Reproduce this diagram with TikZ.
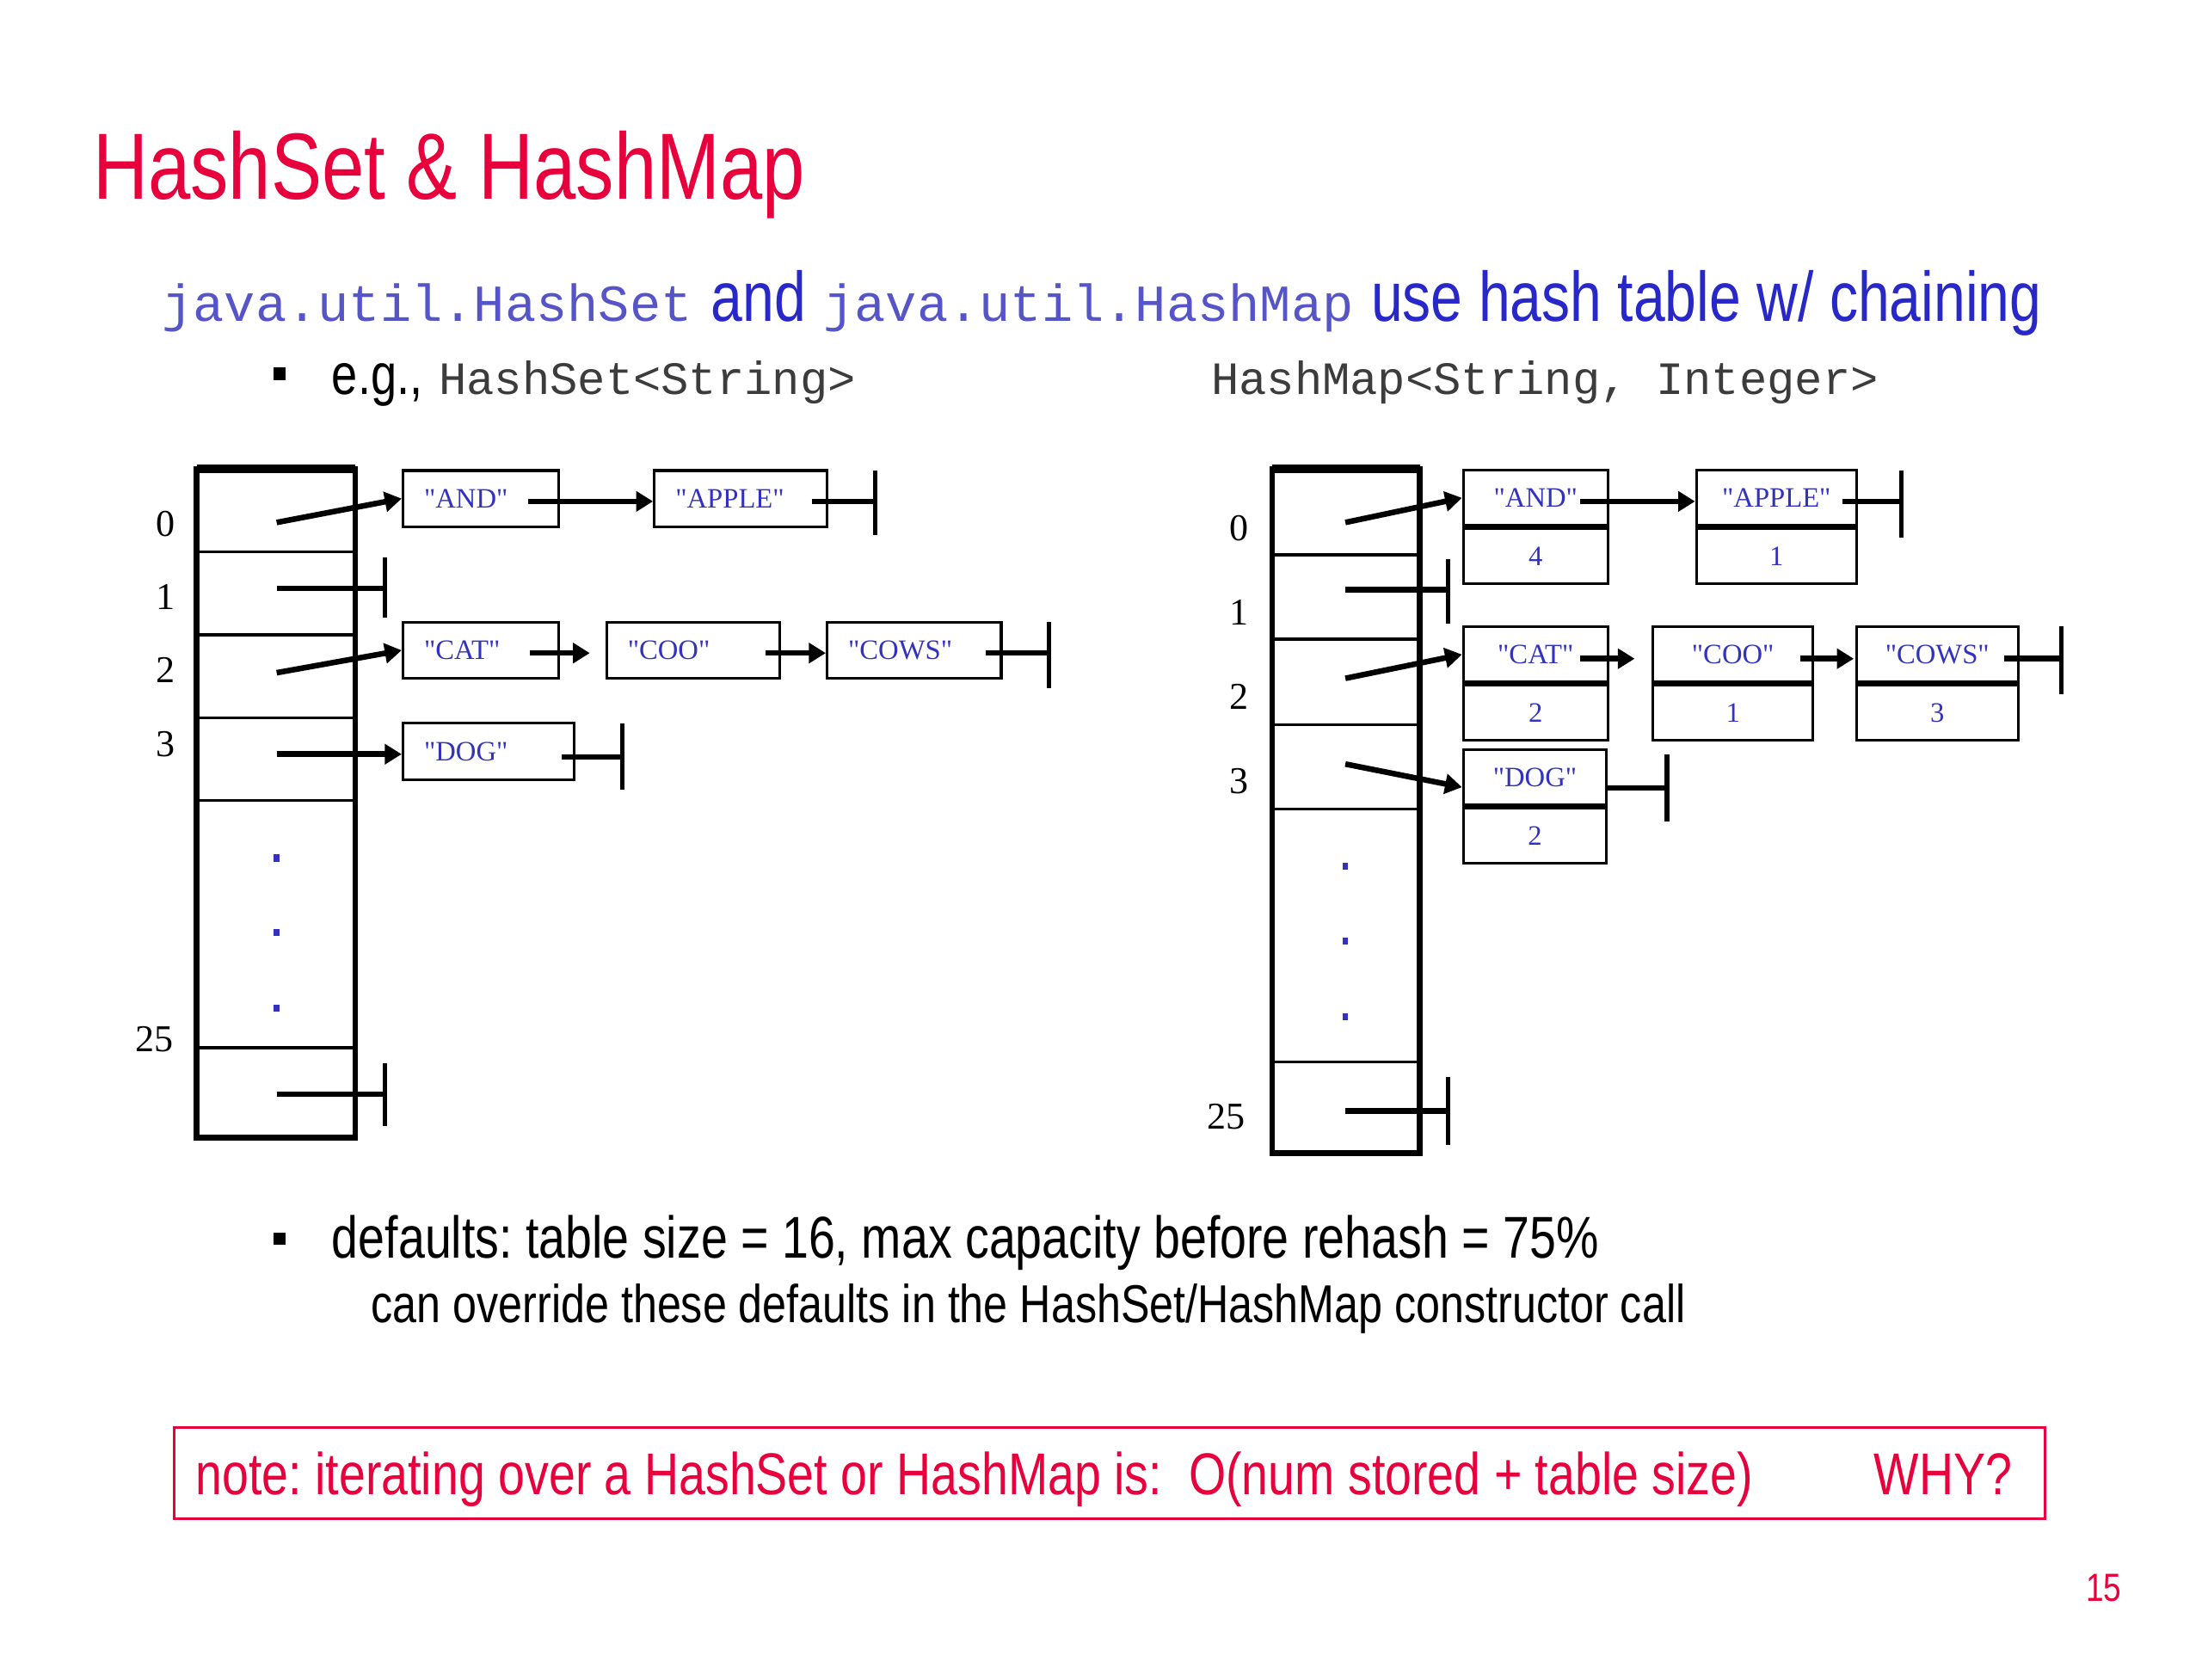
\documentclass[tikz,border=0pt]{standalone}
\usepackage{fontspec}
\setmainfont{Liberation Sans}
\newfontfamily\narrowsans{Liberation Sans}[FakeStretch=0.81]
\newfontfamily\serifface{Liberation Serif}
\newfontfamily\monoface{Liberation Mono}
\usetikzlibrary{arrows.meta,calc}
\definecolor{slidered}{RGB}{232,0,60}
\definecolor{slideblue}{RGB}{40,40,200}
\definecolor{codeblue}{RGB}{85,85,200}
\definecolor{codegray}{RGB}{60,60,60}
\definecolor{boxblue}{RGB}{50,50,190}
\begin{document}
\frenchspacing
\begin{tikzpicture}[x=0.5pt,y=-0.5pt,
  txt/.style={inner sep=0pt, anchor=base west},
  bulletsq/.style={fill=black, minimum size=4.5pt, inner sep=0pt},
  rowlabel/.style={inner sep=0pt, font=\serifface\fontsize{13.5}{16}\selectfont},
  tableframe/.style={line width=2pt},
  divider/.style={line width=1pt},
  setbox/.style={draw, line width=1pt, minimum height=20pt, inner xsep=7.5pt, inner ysep=0pt,
    text=boxblue, align=left, font=\serifface\fontsize{10}{12}\selectfont},
  keybox/.style={draw, line width=1pt, minimum height=19.75pt, inner sep=0pt,
    text=boxblue, font=\serifface\fontsize{10}{12}\selectfont},
  dotsq/.style={fill=boxblue, minimum width=2pt, minimum height=2.5pt, inner sep=0pt},
  ptr/.style={line width=2pt, -{Triangle[length=6pt,width=7pt]}},
  nullline/.style={line width=2pt},
  nullbar/.style={line width=1.6pt}
]
\useasboundingbox (0,0) rectangle (1568,1195.6);

% title and headings
\node[txt, text=slidered, font=\narrowsans\fontsize{33.5}{40}\selectfont] (title) at (66,142) {HashSet \& HashMap};
\node[txt, text=codeblue, font=\monoface\fontsize{18.5}{22}\selectfont] (j1) at (115,229) {java.util.HashSet};
\node[txt, text=slideblue, font=\narrowsans\fontsize{25}{30}\selectfont] (and) at (506,229) {and};
\node[txt, text=codeblue, font=\monoface\fontsize{18.5}{22}\selectfont] (j2) at (586,229) {java.util.HashMap};
\node[txt, text=slideblue, font=\narrowsans\fontsize{25}{30}\selectfont] (use) at (976,229) {use hash table w/ chaining};
\node[bulletsq] (b1) at (199,266) {};
\node[txt, font=\narrowsans\fontsize{20.5}{24}\selectfont] (eg) at (236,281) {e.g.,};
\node[txt, text=codegray, font=\monoface\fontsize{16.5}{20}\selectfont] (hs) at (312,281) {HashSet<String>};
\node[txt, text=codegray, font=\monoface\fontsize{16.5}{20}\selectfont] (hm) at (862,281) {HashMap<String, Integer>};

% ---------- left table ----------
\draw[tableframe] (140,334) rectangle (253,810);
\draw[line width=3pt] (140,334) -- (253,334);
\foreach \yy in {393,452,511,570,746} \draw[divider] (140,\yy) -- (253,\yy);
\node[rowlabel] (ll0) at (118,373) {0};
\node[rowlabel] (ll1) at (118,425) {1};
\node[rowlabel] (ll2) at (118,477) {2};
\node[rowlabel] (ll3) at (118,530) {3};
\node[rowlabel] (ll25) at (110,740) {25};
\node[dotsq] (ld1) at (197,611) {};
\node[dotsq] (ld2) at (197,664) {};
\node[dotsq] (ld3) at (197,718) {};

\node[setbox, text width=40.5pt] (sAND) at (342.5,355) {"AND"};
\node[setbox, text width=46.5pt] (sAPPLE) at (527.5,355) {"APPLE"};
\node[setbox, text width=40.5pt] (sCAT) at (342.5,463) {"CAT"};
\node[setbox, text width=46.5pt] (sCOO) at (493.5,463) {"COO"};
\node[setbox, text width=47pt] (sCOWS) at (651,463) {"COWS"};
\node[setbox, text width=46pt] (sDOG) at (348,535) {"DOG"};

\coordinate (L0) at (197,372);
\coordinate (L1) at (197,419);
\coordinate (L1n) at (274,419);
\coordinate (L2) at (197,479);
\coordinate (L3) at (197,537);
\coordinate (L25) at (197,779);
\coordinate (L25n) at (274,779);
\draw[ptr] (L0) -- (sAND.west);
\draw[nullline] (L1) -- (L1n);
\draw[nullbar] ($(L1n)+(0,-22)$) -- ($(L1n)+(0,21)$);
\draw[ptr] (L2) -- (sCAT.west);
\draw[ptr] (L3) -- (sDOG.west |- L3);
\draw[nullline] (L25) -- (L25n);
\draw[nullbar] ($(L25n)+(0,-22)$) -- ($(L25n)+(0,23)$);

\coordinate (sANDp) at (376,357);
\draw[ptr] (sANDp) -- (sAPPLE.west |- sANDp);
\coordinate (sAPPLEp) at (578,357);
\coordinate (sAPPLEn) at (623,357);
\draw[nullline] (sAPPLEp) -- (sAPPLEn);
\draw[nullbar] ($(sAPPLEn)+(0,-22)$) -- ($(sAPPLEn)+(0,24)$);
\coordinate (sCATp) at (377,465);
\coordinate (sCOOin) at (420,465);
\draw[ptr] (sCATp) -- (sCOOin);
\coordinate (sCOOp) at (545,465);
\draw[ptr] (sCOOp) -- (sCOWS.west |- sCOOp);
\coordinate (sCOWSp) at (702,465);
\coordinate (sCOWSn) at (747,465);
\draw[nullline] (sCOWSp) -- (sCOWSn);
\draw[nullbar] ($(sCOWSn)+(0,-22)$) -- ($(sCOWSn)+(0,25)$);
\coordinate (sDOGp) at (400,539);
\coordinate (sDOGn) at (443,539);
\draw[nullline] (sDOGp) -- (sDOGn);
\draw[nullbar] ($(sDOGn)+(0,-24)$) -- ($(sDOGn)+(0,23)$);

% ---------- right table ----------
\draw[tableframe] (906,334) rectangle (1011,821);
\draw[line width=3pt] (906,334) -- (1011,334);
\foreach \yy in {395,455,516,576,756} \draw[divider] (906,\yy) -- (1011,\yy);
\node[rowlabel] (rl0) at (882,376) {0};
\node[rowlabel] (rl1) at (882,436) {1};
\node[rowlabel] (rl2) at (882,496) {2};
\node[rowlabel] (rl3) at (882,556) {3};
\node[rowlabel] (rl25) at (873,795) {25};
\node[dotsq] (rd1) at (958,617) {};
\node[dotsq] (rd2) at (958,670) {};
\node[dotsq] (rd3) at (958,724) {};

\node[keybox, minimum width=51.5pt] (mAND) at (1093.5,354.5) {"AND"};
\node[keybox, minimum width=51.5pt, anchor=north] (mANDv) at (mAND.south) {4};
\node[keybox, minimum width=57pt] (mAPPLE) at (1265,354.5) {"APPLE"};
\node[keybox, minimum width=57pt, anchor=north] (mAPPLEv) at (mAPPLE.south) {1};
\node[keybox, minimum width=51.5pt] (mCAT) at (1093.5,466) {"CAT"};
\node[keybox, minimum width=51.5pt, anchor=north] (mCATv) at (mCAT.south) {2};
\node[keybox, minimum width=57pt] (mCOO) at (1234,466) {"COO"};
\node[keybox, minimum width=57pt, anchor=north] (mCOOv) at (mCOO.south) {1};
\node[keybox, minimum width=57.5pt] (mCOWS) at (1379.5,466) {"COWS"};
\node[keybox, minimum width=57.5pt, anchor=north] (mCOWSv) at (mCOWS.south) {3};
\node[keybox, minimum width=51pt] (mDOG) at (1093,553.5) {"DOG"};
\node[keybox, minimum width=51pt, anchor=north] (mDOGv) at (mDOG.south) {2};

\coordinate (R0) at (958,372);
\coordinate (R1) at (958,420);
\coordinate (R1n) at (1031,420);
\coordinate (R2) at (958,483);
\coordinate (R3) at (958,544);
\coordinate (R25) at (958,791);
\coordinate (R25n) at (1031,791);
\draw[ptr] (R0) -- (mAND.west);
\draw[nullline] (R1) -- (R1n);
\draw[nullbar] ($(R1n)+(0,-22)$) -- ($(R1n)+(0,24)$);
\draw[ptr] (R2) -- (mCAT.west);
\draw[ptr] (R3) -- ($(mDOG.west)+(0,7)$);
\draw[nullline] (R25) -- (R25n);
\draw[nullbar] ($(R25n)+(0,-24)$) -- ($(R25n)+(0,24)$);

\coordinate (mANDp) at (1125,357);
\draw[ptr] (mANDp) -- (mAPPLE.west |- mANDp);
\coordinate (mAPPLEp) at (1312,357);
\coordinate (mAPPLEn) at (1354,357);
\draw[nullline] (mAPPLEp) -- (mAPPLEn);
\draw[nullbar] ($(mAPPLEn)+(0,-22)$) -- ($(mAPPLEn)+(0,26)$);
\coordinate (mCATp) at (1125,469);
\coordinate (mCOOin) at (1164,469);
\draw[ptr] (mCATp) -- (mCOOin);
\coordinate (mCOOp) at (1282,469);
\coordinate (mCOWSin) at (1320,469);
\draw[ptr] (mCOOp) -- (mCOWSin);
\coordinate (mCOWSp) at (1427,469);
\coordinate (mCOWSn) at (1468,469);
\draw[nullline] (mCOWSp) -- (mCOWSn);
\draw[nullbar] ($(mCOWSn)+(0,-23)$) -- ($(mCOWSn)+(0,25)$);
\coordinate (mDOGp) at (1144,561);
\coordinate (mDOGn) at (1187,561);
\draw[nullline] (mDOGp) -- (mDOGn);
\draw[nullbar] ($(mDOGn)+(0,-24)$) -- ($(mDOGn)+(0,24)$);

% ---------- bottom ----------
\node[bulletsq] (b2) at (199,882) {};
\node[txt, font=\narrowsans\fontsize{21}{25}\selectfont] (def) at (236,896) {defaults: table size = 16, max capacity before rehash = 75\%};
\node[txt, font=\narrowsans\fontsize{19}{23}\selectfont] (ovr) at (264,942) {can override these defaults in the HashSet/HashMap constructor call};
\node[draw=slidered, line width=1pt, minimum width=666pt, minimum height=32.5pt, inner sep=0pt] (note) at (790,1049) {};
\node[txt, text=slidered, font=\narrowsans\fontsize{21}{25}\selectfont] (nt) at (139,1064) {note: iterating over a HashSet or HashMap is:\ \ O(num stored + table size)};
\node[txt, text=slidered, font=\narrowsans\fontsize{21}{25}\selectfont] (why) at (1334,1064) {WHY?};
\node[txt, text=slidered, font=\narrowsans\fontsize{14}{16}\selectfont] (pg) at (1485,1140) {15};
\end{tikzpicture}
\end{document}
